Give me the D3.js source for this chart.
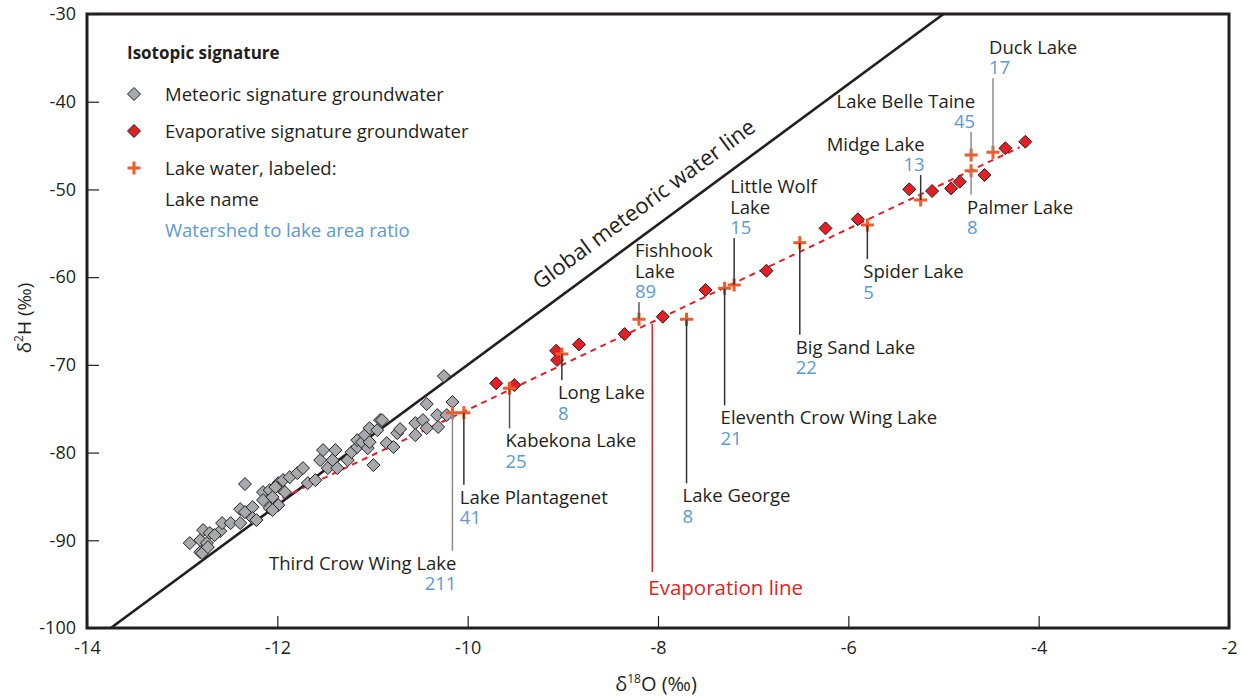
<!DOCTYPE html>
<html lang="en">
<head>
<meta charset="UTF-8">
<title>isotopes</title>
<script src="https://cdn.jsdelivr.net/npm/d3@7"></script>
<style>
  body { margin: 0; background: #fff; }
  text { font-family: "Open Sans", sans-serif; fill: #231f20; }
</style>
</head>
<body>
<script>
// meteoric signature groundwater (d18O, d2H)
let meteoricX = [-12.92, -12.81, -12.81, -12.74, -12.78, -12.71, -12.60, -12.66, -12.58, -12.49,
  -12.39, -12.39, -12.34, -12.26, -12.26, -12.34, -12.15, -12.15, -12.08, -12.08,
  -12.05, -11.99, -11.99, -11.97, -11.92, -11.94, -11.87, -11.79, -11.73, -11.68,
  -11.60, -11.55, -11.52, -11.47, -11.42, -11.39, -11.37, -11.26, -11.22, -11.16,
  -11.16, -11.11, -11.05, -11.08, -11.03, -11.03, -10.99, -10.95, -10.92, -10.85,
  -10.78, -10.74, -10.71, -10.55, -10.55, -10.47, -10.43, -10.43, -10.32, -10.31,
  -10.22, -10.16, -10.25, -12.79, -12.73, -12.02, -12.05, -12.22, -10.90];
let meteoricY = [-90.32, -91.35, -89.98, -90.32, -88.84, -89.18, -88.95, -89.41, -88.04, -88.04,
  -88.04, -86.45, -86.79, -86.22, -87.47, -83.59, -84.51, -85.42, -84.28, -86.33,
  -85.08, -85.99, -83.48, -84.05, -84.51, -83.14, -82.80, -82.34, -81.77, -83.48,
  -83.14, -80.86, -79.72, -81.77, -80.86, -79.72, -81.77, -80.86, -79.95, -79.37,
  -78.58, -78.81, -79.49, -78.01, -77.21, -78.81, -81.43, -77.44, -76.30, -78.92,
  -79.37, -77.78, -77.32, -76.64, -78.01, -76.30, -77.21, -74.47, -75.73, -77.09,
  -75.73, -74.24, -71.28, -91.46, -90.78, -83.94, -86.56, -87.70, -76.30];

// evaporative signature groundwater
let evapX = [-9.70, -9.51, -9.07, -9.06, -8.83, -8.35, -7.95, -7.50, -6.86, -6.24,
  -5.90, -5.36, -5.12, -4.92, -4.83, -4.57, -4.35, -4.14];
let evapY = [-72.11, -72.31, -68.39, -69.45, -67.67, -66.49, -64.51, -61.47, -59.27, -54.44,
  -53.41, -49.99, -50.18, -49.88, -49.12, -48.36, -45.31, -44.56];

// lake water
let lakeNames = ['Third Crow Wing Lake', 'Lake Plantagenet', 'Kabekona Lake', 'Long Lake',
  'Fishhook Lake', 'Lake George', 'Eleventh Crow Wing Lake', 'Little Wolf Lake', 'Big Sand Lake',
  'Spider Lake', 'Midge Lake', 'Lake Belle Taine', 'Palmer Lake', 'Duck Lake'];
let lakeX = [-10.16, -10.04, -9.56, -9.01, -8.20, -7.70, -7.30, -7.20, -6.51, -5.80,
  -5.24, -4.71, -4.71, -4.48];
let lakeY = [-75.46, -75.46, -72.68, -68.77, -64.81, -64.81, -61.28, -60.90, -56.07, -54.06,
  -51.21, -46.08, -47.87, -45.77];
let lakeRatios = [211, 41, 25, 8, 89, 8, 21, 15, 22, 5, 13, 45, 8, 17];

// evaporation line end points and global meteoric water line
let evapLineX = [-12.05, -4.2];
let evapLineY = [-85.7, -45.2];
let gmwlX = [-13.75, -5];
let gmwlY = [-100, -30];

let xTicks = [-14, -12, -10, -8, -6, -4, -2];
let yTicks = [-100, -90, -80, -70, -60, -50, -40, -30];

// label layout: leader length (px, negative = up), text anchor, line breaks, leader colour
let labelLayout = [
  { len: 138, anchor: 'end', lines: ['Third Crow Wing Lake'], stroke: '#8c8c8c' },
  { len: 72, anchor: 'start', lines: ['Lake Plantagenet'], stroke: '#333' },
  { len: 40, anchor: 'start', lines: ['Kabekona Lake'], stroke: '#555' },
  { len: 26, anchor: 'start', lines: ['Long Lake'], stroke: '#333' },
  { len: -17, anchor: 'start', lines: ['Fishhook', 'Lake'], stroke: '#555' },
  { len: 164, anchor: 'start', lines: ['Lake George'], stroke: '#333' },
  { len: 117, anchor: 'start', lines: ['Eleventh Crow Wing Lake'], stroke: '#333' },
  { len: -47, anchor: 'start', lines: ['Little Wolf', 'Lake'], stroke: '#333' },
  { len: 92, anchor: 'start', lines: ['Big Sand Lake'], stroke: '#333' },
  { len: 34, anchor: 'start', lines: ['Spider Lake'], stroke: '#333' },
  { len: -25, anchor: 'end', lines: ['Midge Lake'], stroke: '#333' },
  { len: -23, anchor: 'end', lines: ['Lake Belle Taine'], stroke: '#8c8c8c' },
  { len: 24, anchor: 'start', lines: ['Palmer Lake'], stroke: '#8c8c8c' },
  { len: -74, anchor: 'start', lines: ['Duck Lake'], stroke: '#8c8c8c' }
];

let width = 1242;
let height = 696;
let plotLeft = 87, plotRight = 1229, plotTop = 14, plotBottom = 628;

let blue = '#5b9bd5';
let red = '#e31e24';
let orange = '#f15a29';
let ink = '#231f20';
let labelSize = '18.5px';

let svg = d3.select('body')
  .append('svg')
  .attr('width', width)
  .attr('height', height);

let x = d3.scaleLinear().domain([-14, -2]).range([plotLeft, plotRight]);
let y = d3.scaleLinear().domain([-100, -30]).range([plotBottom, plotTop]);

svg.append('clipPath').attr('id', 'plot')
  .append('rect')
  .attr('x', plotLeft).attr('y', plotTop)
  .attr('width', plotRight - plotLeft).attr('height', plotBottom - plotTop);

// axes with inward ticks, plain hyphen minus in labels
let xAxis = d3.axisBottom(x).tickValues(xTicks).tickSizeInner(-12).tickSizeOuter(0).tickPadding(13)
  .tickFormat(function (d) { return String(d); });
let yAxis = d3.axisLeft(y).tickValues(yTicks).tickSizeInner(-12).tickSizeOuter(0).tickPadding(11)
  .tickFormat(function (d) { return String(d); });

let gx = svg.append('g').attr('transform', 'translate(0,' + plotBottom + ')').call(xAxis);
let gy = svg.append('g').attr('transform', 'translate(' + plotLeft + ',0)').call(yAxis);
[gx, gy].forEach(function (g) {
  g.select('.domain').remove();
  g.selectAll('.tick line').attr('stroke', ink).attr('stroke-width', 1.2);
  g.selectAll('.tick text')
    .style('font-family', '"Open Sans", sans-serif')
    .style('font-size', '18px')
    .attr('fill', ink);
});

// axis titles
let xt = svg.append('text')
  .attr('x', 656).attr('y', 691)
  .attr('text-anchor', 'middle')
  .style('font-size', '20px');
xt.append('tspan').text('\u03b4');
xt.append('tspan').attr('dy', -8).style('font-size', '12px').text('18');
xt.append('tspan').attr('dy', 8).text('O (\u2030)');

let yt = svg.append('text')
  .attr('transform', 'translate(31,318) rotate(-90)')
  .attr('text-anchor', 'middle')
  .style('font-size', '19px');
yt.append('tspan').text('\u03b4');
yt.append('tspan').attr('dy', -8).style('font-size', '12px').text('2');
yt.append('tspan').attr('dy', 8).text('H (\u2030)');

let plot = svg.append('g').attr('clip-path', 'url(#plot)');

// global meteoric water line
plot.append('line')
  .attr('x1', x(gmwlX[0])).attr('y1', y(gmwlY[0]))
  .attr('x2', x(gmwlX[1])).attr('y2', y(gmwlY[1]))
  .attr('stroke', ink).attr('stroke-width', 2.6);

let ang = Math.atan2(y(gmwlY[1]) - y(gmwlY[0]), x(gmwlX[1]) - x(gmwlX[0])) * 180 / Math.PI;
let gx0 = x(-8.08), gy0 = y(8 * -8.08 + 10);
svg.append('text')
  .attr('transform', 'translate(' + (gx0 - 2) + ',' + (gy0 - 20) + ') rotate(' + ang + ')')
  .attr('text-anchor', 'middle')
  .style('font-size', '22px')
  .text('Global meteoric water line');

// evaporation line
plot.append('line')
  .attr('x1', x(evapLineX[0])).attr('y1', y(evapLineY[0]))
  .attr('x2', x(evapLineX[1])).attr('y2', y(evapLineY[1]))
  .attr('stroke', red).attr('stroke-width', 2)
  .attr('stroke-dasharray', '6,5');

// evaporation line callout
let evX = -8.06;
let evY = evapLineY[0] + (evX - evapLineX[0]) * (evapLineY[1] - evapLineY[0]) / (evapLineX[1] - evapLineX[0]);
svg.append('line')
  .attr('x1', x(evX)).attr('y1', y(evY) + 2)
  .attr('x2', x(evX)).attr('y2', 572)
  .attr('stroke', red).attr('stroke-width', 1.5);
svg.append('text')
  .attr('x', x(evX) - 4).attr('y', 595)
  .style('fill', red)
  .style('font-size', '20.5px')
  .text('Evaporation line');

function diamond(r) {
  return 'M0,' + (-r) + 'L' + r + ',0L0,' + r + 'L' + (-r) + ',0Z';
}
function plus(r) {
  return 'M' + (-r) + ',0H' + r + 'M0,' + (-r) + 'V' + r;
}

// leader lines and labels (one text block per lake, lines as tspans)
lakeNames.forEach(function (name, i) {
  let lay = labelLayout[i];
  let cx = x(lakeX[i]);
  let cy = y(lakeY[i]);
  let endY = cy + lay.len;
  svg.append('line')
    .attr('x1', cx).attr('y1', cy)
    .attr('x2', cx).attr('y2', endY)
    .attr('stroke', lay.stroke).attr('stroke-width', 1.5);
  let tx = lay.anchor === 'end' ? cx + 4 : cx - 4;
  let allLines = lay.lines.concat([String(lakeRatios[i])]);
  let firstY = lay.len > 0 ? endY + 19 : endY - 4 - 20.5 * (allLines.length - 1);
  let t = svg.append('text')
    .attr('x', tx).attr('y', firstY)
    .attr('text-anchor', lay.anchor)
    .style('font-size', labelSize);
  allLines.forEach(function (s, j) {
    t.append('tspan')
      .attr('x', tx)
      .attr('dy', j === 0 ? 0 : 20.5)
      .style('fill', j === allLines.length - 1 ? blue : ink)
      .text(s);
  });
});

// groundwater points
plot.selectAll('.met')
  .data(d3.range(meteoricX.length))
  .join('path')
  .attr('class', 'met')
  .attr('transform', function (i) { return 'translate(' + x(meteoricX[i]) + ',' + y(meteoricY[i]) + ')'; })
  .attr('d', diamond(6.5))
  .attr('fill', '#a7a9ac')
  .attr('stroke', ink).attr('stroke-width', 1);

plot.selectAll('.evap')
  .data(d3.range(evapX.length))
  .join('path')
  .attr('class', 'evap')
  .attr('transform', function (i) { return 'translate(' + x(evapX[i]) + ',' + y(evapY[i]) + ')'; })
  .attr('d', diamond(6.5))
  .attr('fill', red)
  .attr('stroke', ink).attr('stroke-width', 1);

plot.selectAll('.lake')
  .data(d3.range(lakeX.length))
  .join('path')
  .attr('class', 'lake')
  .attr('transform', function (i) { return 'translate(' + x(lakeX[i]) + ',' + y(lakeY[i]) + ')'; })
  .attr('d', plus(6.5))
  .attr('stroke', orange).attr('stroke-width', 3)
  .attr('fill', 'none');

// frame
svg.append('rect')
  .attr('x', plotLeft).attr('y', plotTop)
  .attr('width', plotRight - plotLeft).attr('height', plotBottom - plotTop)
  .attr('fill', 'none')
  .attr('stroke', ink).attr('stroke-width', 3);

// legend
let lg = svg.append('g');
lg.append('text')
  .attr('x', 127).attr('y', 59)
  .style('font-size', '17px').style('font-weight', 'bold')
  .text('Isotopic signature');

let legendRows = [
  { y: 94, text: 'Meteoric signature groundwater', mark: 'met' },
  { y: 131, text: 'Evaporative signature groundwater', mark: 'evap' },
  { y: 168, text: 'Lake water, labeled:', mark: 'lake' },
  { y: 199, text: 'Lake name', mark: null },
  { y: 230, text: 'Watershed to lake area ratio', mark: null, color: blue }
];
legendRows.forEach(function (r) {
  if (r.mark === 'lake') {
    lg.append('path')
      .attr('transform', 'translate(134,' + r.y + ')')
      .attr('d', plus(6.5))
      .attr('stroke', orange).attr('stroke-width', 3);
  } else if (r.mark) {
    lg.append('path')
      .attr('transform', 'translate(134,' + r.y + ')')
      .attr('d', diamond(6.5))
      .attr('fill', r.mark === 'met' ? '#a7a9ac' : red)
      .attr('stroke', ink).attr('stroke-width', 1);
  }
  lg.append('text')
    .attr('x', 165).attr('y', r.y + 7)
    .style('font-size', labelSize)
    .style('fill', r.color || ink)
    .text(r.text);
});
</script>
</body>
</html>
